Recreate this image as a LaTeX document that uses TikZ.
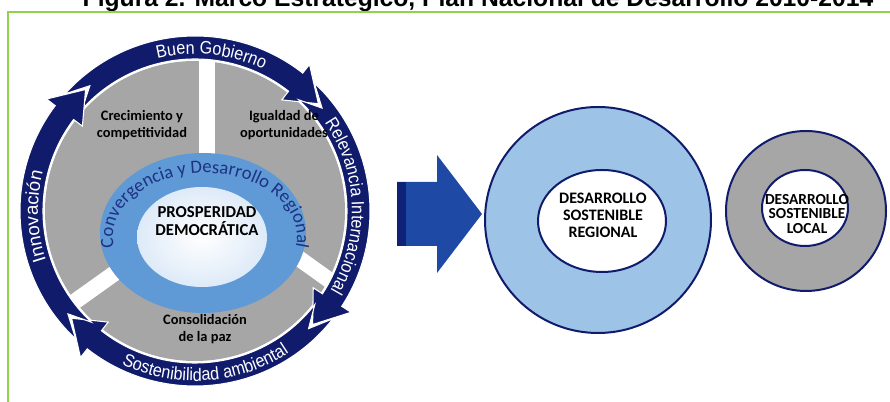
\documentclass[tikz,border=0pt]{standalone}
\usepackage{fontspec}
\setmainfont{Carlito}
\newfontfamily\arialfont{Liberation Sans}
\newfontfamily\bandfont[FakeStretch=0.9]{Liberation Sans}
\usetikzlibrary{calc,decorations.text}

\definecolor{ringnavy}{RGB}{16,28,107}
\definecolor{diskgray}{RGB}{166,166,166}
\definecolor{ringblue}{RGB}{95,154,214}
\definecolor{coreblue}{RGB}{222,234,248}
\definecolor{regblue}{RGB}{157,195,230}
\definecolor{arrowblue}{RGB}{30,74,165}
\definecolor{arrowdark}{RGB}{14,34,118}
\definecolor{framegreen}{RGB}{146,208,80}
\definecolor{convtext}{RGB}{30,50,130}

\begin{document}
\begin{tikzpicture}[x=0.75pt, y=0.75pt,
    sector/.style={font=\fontsize{10.8}{12.5}\selectfont\bfseries, align=center},
    core/.style={font=\fontsize{12.5}{13.8}\selectfont\bfseries, align=center},
    ringtext/.style={decorate, decoration={text along path, text align=center, text={#1}}},
    navyline/.style={draw=ringnavy, line width=1.5pt},
    gapbar/.style={white, line width=12pt}
]
\useasboundingbox (0,0) rectangle (890,402);

% titulo y marco
\node[anchor=base, font=\arialfont\bfseries\fontsize{18.5}{20}\selectfont] (titulo) at (478,395.5)
    {Figura 2. Marco Estratégico, Plan Nacional de Desarrollo 2010-2014};
\draw[framegreen, line width=1.5pt] (8,0) -- (8,390) -- (890,390);

% ciclo
\coordinate (C) at (195,191);
\fill[diskgray] (C) circle[radius=150];
\draw[gapbar] (207,191) -- (207,345);
\draw[gapbar] (150,154) -- (56,87);
\draw[gapbar] (258,173) -- (350,107);
\fill[ringblue] (203,169) ellipse[x radius=103, y radius=80];
\shade[inner color=white, outer color=coreblue] (202,165) ellipse[x radius=65, y radius=50];
\path[ringtext={|\fontsize{14}{14}\selectfont\color{convtext}|Convergencia y Desarrollo Regional}]
    ($(205,165)+(193:92 and 64)$) arc[start angle=193, end angle=-13, x radius=92, y radius=64];

\foreach \s/\e in {138/52, 47/-33, -38/-128, 227/143} {
    \pgfmathsetmacro\tipang{\e-11}
    \pgfmathsetmacro\notchang{\s-8}
    \filldraw[fill=ringnavy, draw=white, line width=0.8pt]
        ($(C)+(\s:175)$) arc[start angle=\s, end angle=\e, radius=175]
        -- ($(C)+(\e:186)$) -- ($(C)+(\tipang:163.5)$) -- ($(C)+(\e:141)$)
        -- ($(C)+(\e:152)$) arc[start angle=\e, end angle=\s, radius=152]
        -- ($(C)+(\notchang:163.5)$) -- cycle;
}
\path[ringtext={|\bandfont\fontsize{13.5}{13.5}\selectfont\color{white}|Buen Gobierno}]
    ($(C)+(124:157)$) arc[start angle=124, end angle=44, radius=157];
\path[ringtext={|\bandfont\fontsize{13.5}{13.5}\selectfont\color{white}|Relevancia Internacional}]
    ($(C)+(38:157)$) arc[start angle=38, end angle=-34, radius=157];
\path[ringtext={|\bandfont\fontsize{13.5}{13.5}\selectfont\color{white}|Sostenibilidad ambiental}]
    ($(C)+(229:170)$) arc[start angle=229, end angle=319, radius=170];
\path[ringtext={|\arialfont\fontsize{14}{14}\selectfont\color{white}|Innovación}]
    ($(C)+(222:157)$) arc[start angle=222, end angle=142, radius=157];

\node[sector] (crecimiento)   at (142,277) {Crecimiento y\\competitividad};
\node[sector] (igualdad)      at (284,277) {Igualdad de\\oportunidades};
\node[sector] (consolidacion) at (205,73)  {Consolidación\\de la paz};
\node[core]   (prosperidad)   at (207,181) {PROSPERIDAD\\DEMOCRÁTICA};

% flecha y circulos
\fill[arrowblue] (397,156) -- (437,156) -- (437,129) -- (482,188) -- (437,247) -- (437,220) -- (397,220) -- cycle;
\fill[arrowdark] (397,156) rectangle (406,220);

\filldraw[fill=regblue, navyline] (598,182) circle[radius=113];
\filldraw[fill=white, navyline] (602,181) ellipse[x radius=64, y radius=51];
\node[core, font=\fontsize{12}{12.8}\selectfont\bfseries] (regional) at (603,187) {DESARROLLO\\SOSTENIBLE\\REGIONAL};

\filldraw[fill=diskgray, navyline] (806,191) circle[radius=80];
\filldraw[fill=white, navyline] (805,194) ellipse[x radius=43, y radius=38];
\node[core, font=\fontsize{11.5}{10.8}\selectfont\bfseries] (local) at (807,188) {DESARROLLO\\SOSTENIBLE\\LOCAL};
\end{tikzpicture}
\end{document}
